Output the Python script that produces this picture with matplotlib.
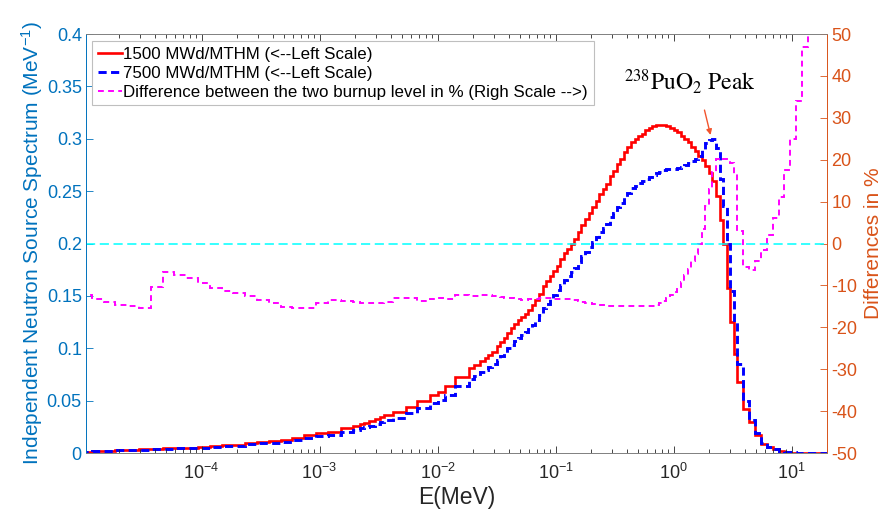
import numpy as np
import matplotlib
matplotlib.use("Agg")
import matplotlib.pyplot as plt
from matplotlib.lines import Line2D

# Energy group boundaries, log10(E / MeV)
edge_exp = [
    -5.03, -4.93, -4.83, -4.73, -4.63, -4.53, -4.43, -4.33, -4.23, -4.13,
    -4.03, -3.93, -3.83, -3.73, -3.63, -3.53, -3.43, -3.33, -3.23, -3.13,
    -3.03, -2.93,
    -2.82, -2.72, -2.66, -2.62, -2.58, -2.53, -2.49, -2.45, -2.38, -2.27,
    -2.17, -2.06, -2.00, -1.94, -1.85, -1.73, -1.69, -1.64, -1.60, -1.57,
    -1.54, -1.50,
    -1.47, -1.44, -1.41, -1.38, -1.35, -1.32, -1.29, -1.26, -1.23, -1.20,
    -1.17, -1.14, -1.11, -1.08, -1.05, -1.02, -0.99, -0.96, -0.93, -0.90,
    -0.87, -0.84, -0.81, -0.78, -0.75, -0.72, -0.69, -0.66, -0.63, -0.60,
    -0.57, -0.54, -0.51, -0.48, -0.45, -0.42, -0.39, -0.36, -0.33, -0.30,
    -0.27, -0.24, -0.21, -0.18, -0.15, -0.12, -0.09, -0.06, -0.03, 0.00,
    0.03, 0.06, 0.09, 0.12, 0.15, 0.18, 0.21, 0.24, 0.27, 0.30,
    0.33, 0.36, 0.39, 0.42, 0.45, 0.48, 0.51, 0.54,
    0.59, 0.64, 0.69, 0.74, 0.79, 0.84, 0.89, 0.94, 0.99, 1.04,
    1.09, 1.14, 1.19, 1.24, 1.30,
]

# Source spectrum at 1500 MWd/MTHM (1/MeV)
spec_1500 = [
    0.0013, 0.0018, 0.0024, 0.0029, 0.0032, 0.0035, 0.0042, 0.0046, 0.0049, 0.0051,
    0.0056, 0.0064, 0.0072, 0.0080, 0.0095, 0.0105, 0.0115, 0.0128, 0.0145, 0.0172,
    0.0188,
    0.0204, 0.0236, 0.0258, 0.0274, 0.0289, 0.0305, 0.0321, 0.0340, 0.0365, 0.0388,
    0.0442, 0.0496, 0.0554, 0.0585, 0.0640, 0.0728, 0.0808, 0.0840, 0.0880, 0.0910,
    0.0936, 0.0967,
    0.102, 0.106, 0.110, 0.115, 0.119, 0.123, 0.127, 0.130, 0.133, 0.137,
    0.141, 0.146, 0.152, 0.159, 0.164, 0.169, 0.174, 0.179, 0.185, 0.191,
    0.195, 0.200, 0.204, 0.211, 0.218, 0.223, 0.229, 0.235, 0.241, 0.247,
    0.252, 0.257, 0.264, 0.269, 0.276, 0.281, 0.287, 0.292, 0.297, 0.300,
    0.303, 0.305, 0.308, 0.310, 0.312, 0.313, 0.313, 0.313, 0.312, 0.310,
    0.308, 0.306, 0.303, 0.300, 0.297, 0.292, 0.288, 0.284, 0.280, 0.274,
    0.267, 0.260, 0.245, 0.222, 0.200, 0.158, 0.125, 0.095,
    0.068, 0.042, 0.030, 0.017, 0.009, 0.0055, 0.0035, 0.0018, 0.0010, 0.0005,
    0.0003, 0.0002, 0.0001, 0.00005, 0.00002,
]

# Source spectrum at 7500 MWd/MTHM (1/MeV)
spec_7500 = [
    0.00114, 0.00156, 0.00206, 0.00248, 0.00272, 0.00296, 0.00376, 0.00429, 0.00454, 0.00468,
    0.00507, 0.00572, 0.00638, 0.00706, 0.0083, 0.0091, 0.00987, 0.01085, 0.01227, 0.01455,
    0.01613,
    0.01767, 0.02034, 0.02221, 0.02351, 0.0248, 0.02614, 0.02751, 0.02921, 0.03143, 0.0338,
    0.0385, 0.0428, 0.0481, 0.0510, 0.0556, 0.0638, 0.0707, 0.0735, 0.0771, 0.0797,
    0.0820, 0.0846,
    0.0891, 0.0924, 0.0958, 0.1001, 0.1034, 0.1068, 0.1101, 0.1126, 0.1152, 0.1188,
    0.1224, 0.1267, 0.1321, 0.1382, 0.1425, 0.1469, 0.1510, 0.1554, 0.1606, 0.1656,
    0.1691, 0.1732, 0.1765, 0.1821, 0.1877, 0.1916, 0.1965, 0.2012, 0.2061, 0.2109,
    0.2150, 0.2190, 0.2249, 0.2289, 0.2349, 0.2391, 0.2442, 0.2485, 0.2527, 0.2553,
    0.2579, 0.2593, 0.2618, 0.2635, 0.2655, 0.2670, 0.2686, 0.2700, 0.2708, 0.2712,
    0.2716, 0.2725, 0.2735, 0.2750, 0.2770, 0.2790, 0.2810, 0.2840, 0.2890, 0.2960,
    0.2990, 0.3000, 0.2910, 0.2620, 0.2360, 0.2000, 0.1550, 0.1250,
    0.085, 0.050, 0.032, 0.019, 0.0095, 0.0055, 0.0034, 0.0020, 0.0012, 0.0006,
    0.0004, 0.0003, 0.00015, 0.00008, 0.00003,
]

# Relative difference between the two burnup levels (%)
diff_pct = [
    -12.2, -13.3, -14.0, -14.6, -15.0, -15.3, -10.4, -6.8, -7.4, -8.2,
    -9.4, -10.6, -11.4, -11.7, -12.6, -13.4, -14.2, -15.2, -15.4, -15.4,
    -14.2,
    -13.4, -13.8, -13.9, -14.2, -14.2, -14.3, -14.3, -14.1, -13.9, -12.9,
    -12.9, -13.7, -13.2, -12.9, -13.2, -12.3, -12.5, -12.5, -12.4, -12.4,
    -12.4, -12.5,
    -12.6, -12.8, -12.9, -13.0, -13.1, -13.2, -13.3, -13.4, -13.4, -13.3,
    -13.2, -13.2, -13.1, -13.1, -13.1, -13.1, -13.2, -13.2, -13.2, -13.3,
    -13.3, -13.4, -13.5, -13.7, -13.9, -14.1, -14.2, -14.4, -14.5, -14.6,
    -14.7, -14.8, -14.8, -14.9, -14.9, -14.9, -14.9, -14.9, -14.9, -14.9,
    -14.9, -15.0, -15.0, -15.0, -14.9, -14.7, -14.2, -13.6, -13.0, -12.2,
    -11.5, -10.3, -9.2, -7.5, -6.0, -4.2, -2.4, 0.0, 3.5, 9.0,
    13.0, 17.0, 20.2, 20.3, 20.2, 19.8, 19.3, 16.6,
    3.0, -5.5, -6.4, -4.1, -1.5, 2.0, 6.0, 11.0, 17.5, 25.0,
    34.0, 47.0, 62.0, 78.0, 95.0,
]

left_ticks = [0, 0.05, 0.1, 0.15, 0.2, 0.25, 0.3, 0.35, 0.4]
left_tick_labels = ['0', '0.05', '0.1', '0.15', '0.2', '0.25', '0.3', '0.35', '0.4']
right_ticks = [-50, -40, -30, -20, -10, 0, 10, 20, 30, 40, 50]
legend_labels = [
    '1500 MWd/MTHM (<--Left Scale)',
    '7500 MWd/MTHM (<--Left Scale)',
    'Difference between the two burnup level in % (Righ Scale -->)',
]
peak_text = r'$^{238}\mathrm{PuO}_{2}\ \mathrm{Peak}$'

BLUE_AX = '#0072BD'
ORANGE_AX = '#D95319'
DARK = '#262626'

plt.rcParams.update({
    'font.family': ['Liberation Sans', 'DejaVu Sans'],
    'mathtext.fontset': 'custom',
    'mathtext.rm': 'Liberation Sans',
    'mathtext.it': 'Liberation Sans:italic',
    'mathtext.bf': 'Liberation Sans:bold',
    'axes.unicode_minus': False,
})

fig = plt.figure(figsize=(8.85, 5.2), dpi=100)
ax = fig.add_axes([0.0972, 0.1288, 0.8373, 0.8058])
ax.set_xscale('log')
ax2 = ax.twinx()

edges = 10.0 ** np.array(edge_exp)

ax.stairs(spec_1500, edges, baseline=None, color='#FF0000', lw=1.9)
ax.stairs(spec_7500, edges, baseline=None, color='#0000FF', lw=2.1,
          linestyle=(0, (2.8, 1.5)))
ax2.axhline(0, color='#00FFFF', lw=1.1, linestyle=(0, (6, 3)))
ax2.stairs(diff_pct, edges, baseline=None, color='#FF00FF', lw=1.4,
           linestyle=(0, (3, 2.2)))

ax.set_xlim(1.05e-5, 20)
ax.set_ylim(0, 0.4)
ax2.set_ylim(-50, 50)

ax.set_yticks(left_ticks)
ax.set_yticklabels(left_tick_labels)
ax2.set_yticks(right_ticks)
ax2.set_yticklabels([str(t) for t in right_ticks])

ax.tick_params(axis='x', which='major', direction='in', top=True, length=5,
               width=0.6, colors=DARK, labelsize=13, pad=7)
ax.tick_params(axis='x', which='minor', direction='in', top=True, length=2.8,
               width=0.6, colors=DARK)
ax.tick_params(axis='y', direction='in', length=5, width=0.6,
               colors=BLUE_AX, labelsize=13, pad=3)
ax2.tick_params(axis='y', direction='in', length=5, width=0.6,
                colors=ORANGE_AX, labelsize=13, pad=3)

for a in (ax, ax2):
    a.spines['left'].set_color(BLUE_AX)
    a.spines['right'].set_color(ORANGE_AX)
    a.spines['top'].set_color('#808080')
    a.spines['bottom'].set_color('#808080')
    for s in a.spines.values():
        s.set_linewidth(0.6)

ax.set_ylabel('Independent Neutron Source Spectrum (MeV$^{-1}$)',
              color=BLUE_AX, fontsize=15, labelpad=1)
ax.set_xlabel('E(MeV)', color=DARK, fontsize=16.5, labelpad=2)
ax2.set_ylabel('Differences in %', color=ORANGE_AX, fontsize=15, labelpad=5)

# Peak annotation
ax.text(1.37, 0.355, peak_text, fontsize=17, ha='center', va='center',
        color='black', math_fontfamily='stix')
ax.annotate('', xy=(2.06, 0.3036), xytext=(1.83, 0.3274),
            arrowprops=dict(arrowstyle='-|>', color='#F2542D', lw=1.0,
                            mutation_scale=8, shrinkA=0, shrinkB=0))

handles = [
    Line2D([], [], color='#FF0000', lw=1.9),
    Line2D([], [], color='#0000FF', lw=2.1, linestyle=(0, (2.8, 1.5))),
    Line2D([], [], color='#FF00FF', lw=1.4, linestyle=(0, (3, 2.2))),
]
leg = ax2.legend(handles, legend_labels, loc='upper left',
                 bbox_to_anchor=(0.008, 0.983), borderaxespad=0,
                 fontsize=12.2, handlelength=1.4, handletextpad=0.1,
                 labelspacing=0.22, borderpad=0.35, fancybox=False,
                 framealpha=1, edgecolor='#bfbfbf')
leg.get_frame().set_linewidth(0.8)

fig.savefig('out.png', dpi=100)
